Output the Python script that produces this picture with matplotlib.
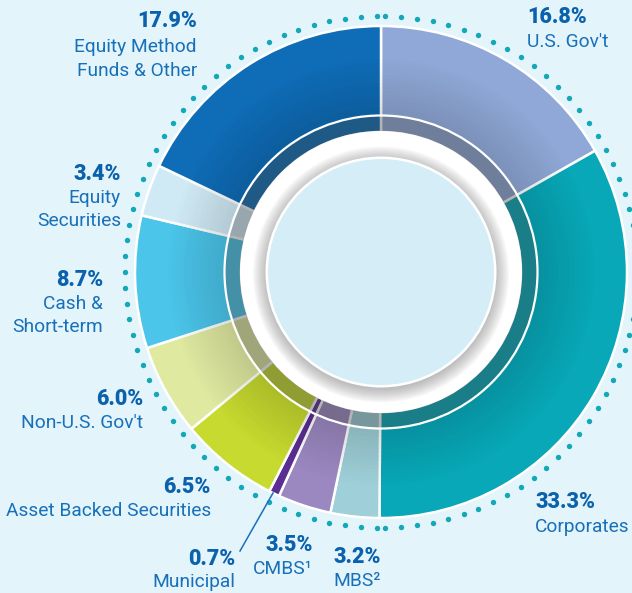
import numpy as np
import matplotlib
matplotlib.use("Agg")
import matplotlib.pyplot as plt
from matplotlib.patches import Circle, Wedge

# ---- data (clockwise from 12 o'clock) ----
categories = ["U.S. Gov't", "Corporates", "MBS²", "CMBS¹", "Municipal",
              "Asset Backed Securities", "Non-U.S. Gov't", "Cash &\nShort-term",
              "Equity\nSecurities", "Equity Method\nFunds & Other"]
shares = [16.8, 33.3, 3.2, 3.5, 0.7, 6.5, 6.0, 8.7, 3.4, 17.9]
pct_labels = ["16.8%", "33.3%", "3.2%", "3.5%", "0.7%",
              "6.5%", "6.0%", "8.7%", "3.4%", "17.9%"]
colors = ["#8fa8d7", "#08a8b8", "#9fd0d9", "#9c88c1", "#5b2e92",
          "#c6da2f", "#dfe9a0", "#4bc5ea", "#d0eaf5", "#0f6cb6"]

W, H = 632, 593
BG = "#e3f4fb"
PCT_COL = "#0b62ac"
LAB_COL = "#1870b9"

def Y(yp):
    # picture rows are counted from the top
    return H - yp

cx, cy = 381, Y(272)
R_OUT, R_IN = 246, 140

fig = plt.figure(figsize=(W / 100, H / 100), dpi=100, facecolor=BG)
ax = fig.add_axes([0, 0, 1, 1])
ax.set_facecolor(BG)

# dotted outer ring, two halves meeting at top and bottom
for side in (1, -1):
    a = np.radians(90 - side * np.linspace(1.0, 179.0, 51))
    ax.scatter(cx + 256 * np.cos(a), cy + 256 * np.sin(a), s=15,
               color="#13a8b8", lw=0, zorder=1)

# main donut
ax.pie(shares, colors=colors, startangle=90, counterclock=False,
       radius=R_OUT, center=(cx, cy),
       wedgeprops=dict(width=R_OUT - R_IN, edgecolor="white", linewidth=1.8))

# soft darkening towards the inside
n = 14
for i in range(n):
    r0 = 157 + i * 4
    ax.add_patch(Wedge((cx, cy), r0 + 4, 0, 360, width=4, color="black",
                       alpha=0.13 * (1 - i / n), lw=0, zorder=3))
ax.add_patch(Wedge((cx, cy), 157, 0, 360, width=157 - R_IN, color="#3a3a3a",
                   alpha=0.38, lw=0, zorder=3))
ax.add_patch(Circle((cx, cy), 156.5, fill=False, ec="white", lw=1.6, zorder=4))

# white ring with shadow around the centre disc
ax.add_patch(Circle((cx, cy), 141, color="white", lw=0, zorder=5))
for k in range(12):
    ax.add_patch(Circle((cx, cy - 2.5), 113 + 15 * (1 - k / 12), color="#6a6a6a",
                        alpha=0.045, lw=0, zorder=6))
ax.add_patch(Circle((cx, cy), 115.5, color="white", lw=0, zorder=7))
ax.add_patch(Circle((cx, cy), 113, color="#d5edf7", lw=0, zorder=8))

# labels: (x, baseline of percent, baseline of first label line, align)
label_pos = [
    (527, 23, 47, "left"),
    (535, 508, 532, "left"),
    (381, 563, 586, "right"),
    (313, 551, 574, "right"),
    (235, 565, 587, "right"),
    (211, 493, 516, "right"),
    (143, 405, 428, "right"),
    (103, 286, 309, "right"),
    (121, 180, 203, "right"),
    (197, 27, 52, "right"),
]
for cat, pct, (x, yb_pct, yb_lab, ha) in zip(categories, pct_labels, label_pos):
    ax.text(x, Y(yb_pct), pct, ha=ha, va="baseline", fontsize=15.5,
            family="Roboto", fontweight="black", color=PCT_COL, zorder=10)
    for j, line in enumerate(cat.split("\n")):
        ax.text(x, Y(yb_lab + j * 23.5), line, ha=ha, va="baseline",
                fontsize=13.8, family="Roboto", fontweight="normal",
                color=LAB_COL, zorder=10)

# leader line for the thin Municipal slice
ax.plot([273, 240], [Y(493), Y(551)], color="#1a6fba", lw=1.1, zorder=9)

ax.set_xlim(0, W)
ax.set_ylim(0, H)
ax.set_aspect("equal")
ax.axis("off")

fig.savefig("out.png", dpi=100, facecolor=BG)
